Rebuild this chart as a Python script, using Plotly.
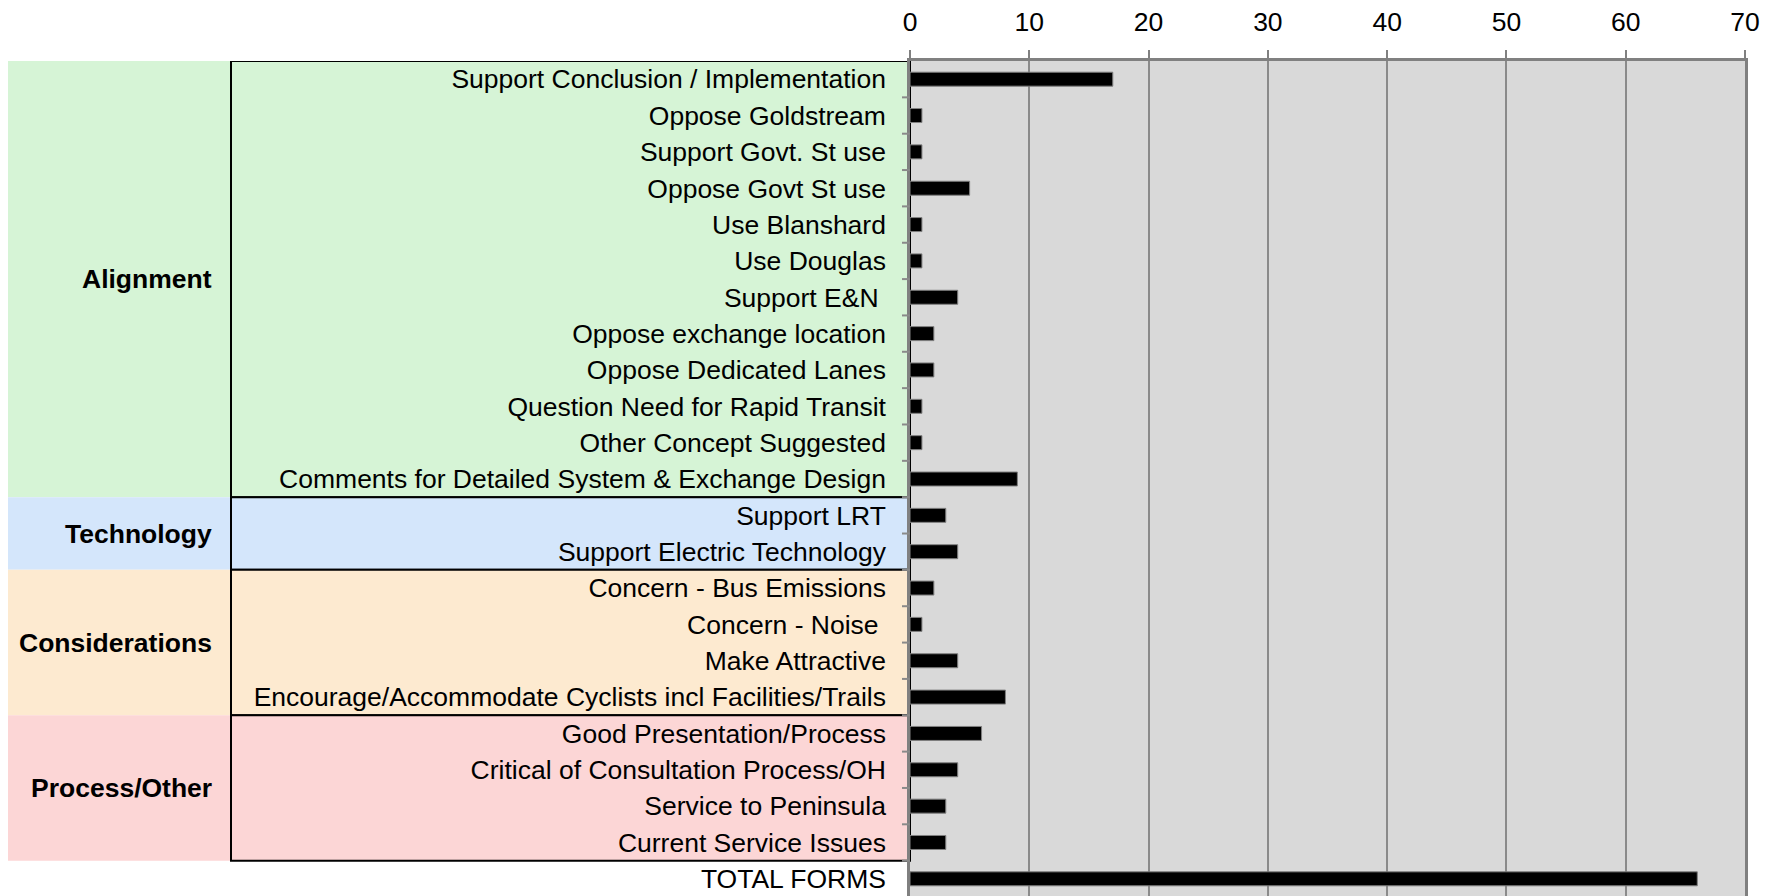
import plotly.graph_objects as go

categories = [
    "Support Conclusion / Implementation",
    "Oppose Goldstream",
    "Support Govt. St use",
    "Oppose Govt St use",
    "Use Blanshard",
    "Use Douglas",
    "Support E&N ",
    "Oppose exchange location",
    "Oppose Dedicated Lanes",
    "Question Need for Rapid Transit",
    "Other Concept Suggested",
    "Comments for Detailed System & Exchange Design",
    "Support LRT",
    "Support Electric Technology",
    "Concern - Bus Emissions",
    "Concern - Noise ",
    "Make Attractive",
    "Encourage/Accommodate Cyclists incl Facilities/Trails",
    "Good Presentation/Process",
    "Critical of Consultation Process/OH",
    "Service to Peninsula",
    "Current Service Issues",
    "TOTAL FORMS",
]
values = [17, 1, 1, 5, 1, 1, 4, 2, 2, 1, 1, 9, 3, 4, 2, 1, 4, 8, 6, 4, 3, 3, 66]

group_names = ["Alignment", "Technology", "Considerations", "Process/Other"]
group_sizes = [12, 2, 4, 4]
group_colors = ["#d6f4d6", "#d4e6fb", "#fdead0", "#fcd6d6"]

x_ticks = [0, 10, 20, 30, 40, 50, 60, 70]

FONT = "Liberation Sans, Arial, sans-serif"
FS = 26.5

ylabels = [c[:-1] + "\u00a0" if c.endswith(" ") else c for c in categories]
idx = list(range(len(categories)))

fig = go.Figure()
fig.add_trace(go.Bar(
    x=values, y=idx, orientation="h",
    marker=dict(color="#000000", line=dict(color="#808080", width=1)),
    hovertext=categories, hoverinfo="x+text",
))

shapes = []
annotations = []
start = 0
LEFT_FILL = (8 - 910) / 835
LEFT_BOX = (231 - 910) / 835
LABEL_X = (214 - 910) / 835
for name, size, col in zip(group_names, group_sizes, group_colors):
    y0 = start - 0.5
    y1 = start + size - 0.5
    shapes.append(dict(type="rect", xref="paper", yref="y", x0=LEFT_FILL, x1=0,
                       y0=y0, y1=y1, fillcolor=col, line=dict(width=0), layer="below"))
    shapes.append(dict(type="rect", xref="paper", yref="y", x0=LEFT_BOX, x1=0,
                       y0=y0, y1=y1, fillcolor="rgba(0,0,0,0)",
                       line=dict(color="#000000", width=2), layer="below"))
    annotations.append(dict(xref="paper", yref="y", x=LABEL_X, y=(y0 + y1) / 2,
                            text="<b>%s</b>" % name, showarrow=False, xanchor="right",
                            yanchor="middle", font=dict(family=FONT, size=FS, color="#000000")))
    start += size

# small boundary ticks on the left axis (between rows)
for i in range(len(categories) - 1):
    shapes.append(dict(type="line", xref="paper", yref="y", x0=-8 / 835, x1=0,
                       y0=i + 0.5, y1=i + 0.5, line=dict(color="#8a8a8a", width=2)))

# page body has an 8px margin; compensate so the plot sits at the reference position
fig.update_layout(
    width=1770, height=889,
    margin=dict(l=902, r=33, t=53, b=0, pad=0, autoexpand=False),
    paper_bgcolor="#ffffff",
    plot_bgcolor="#d9d9d9",
    showlegend=False,
    bargap=0.615,
    shapes=shapes,
    annotations=annotations,
    font=dict(family=FONT, size=FS, color="#000000"),
)
fig.update_xaxes(
    side="top", range=[0, 70], tickvals=x_ticks, ticktext=[str(v) for v in x_ticks],
    showgrid=True, gridcolor="#8a8a8a", gridwidth=1.5,
    showline=True, linecolor="#808080", linewidth=2.5, mirror=False,
    ticks="outside", ticklen=8, tickcolor="#808080", tickwidth=1.5,
    tickfont=dict(family=FONT, size=FS, color="#000000"),
    ticklabelstandoff=9, automargin=False,
    zeroline=False, fixedrange=True,
)
fig.update_yaxes(
    range=[len(categories) - 0.5, -0.5],
    tickvals=idx, ticktext=ylabels,
    showgrid=False, zeroline=False,
    showline=True, linecolor="#808080", linewidth=2.5, mirror=True,
    ticks="", tickfont=dict(family=FONT, size=FS, color="#000000"),
    ticklabelstandoff=16, automargin=False, fixedrange=True,
)

fig.write_html("out.html")
